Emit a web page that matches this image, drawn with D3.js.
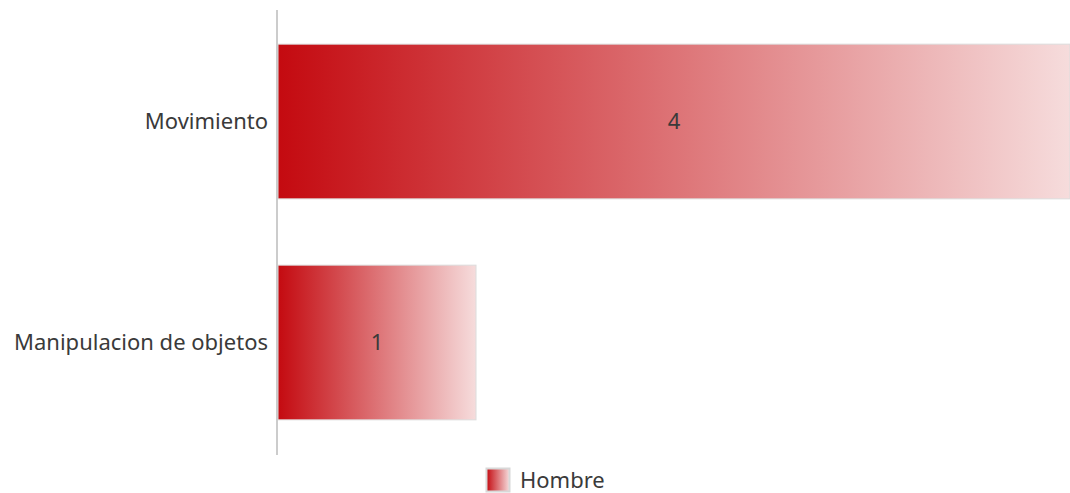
<!DOCTYPE html>
<html>
<head>
<meta charset="utf-8">
<script src="https://cdn.jsdelivr.net/npm/d3@7"></script>
<style>
  html, body { margin: 0; padding: 0; background: #fff; }
  svg { display: block; font-family: "Noto Sans", "Open Sans", sans-serif; }
</style>
</head>
<body>
<svg id="chart" width="1070" height="493"></svg>
<script>
const categories = ["Movimiento", "Manipulacion de objetos"];
const seriesName = "Hombre";
const values = [4, 1];
const xMax = 4;

const svg = d3.select("#chart");
const W = 1070, H = 493;
const margin = { left: 278, right: 0, top: 11, bottom: 40 };
const FS = 22;

const x = d3.scaleLinear().domain([0, xMax]).range([margin.left, W - margin.right]);
const y = d3.scaleBand().domain(categories).range([margin.top, H - margin.bottom])
  .paddingInner(0.3).paddingOuter(0.15);

const defs = svg.append("defs");
const grad = defs.append("linearGradient").attr("id", "barGrad")
  .attr("x1", "0%").attr("y1", "0%").attr("x2", "100%").attr("y2", "0%");
grad.append("stop").attr("offset", "0%").attr("stop-color", "#c40a10");
grad.append("stop").attr("offset", "100%").attr("stop-color", "#f6dcdc");

const rows = categories.map((c, i) => ({ c, v: values[i] }));

// bars
svg.append("g").selectAll("rect")
  .data(rows)
  .join("rect")
  .attr("x", x(0))
  .attr("y", d => y(d.c))
  .attr("width", d => x(d.v) - x(0))
  .attr("height", y.bandwidth())
  .attr("fill", "url(#barGrad)")
  .attr("stroke", "#dcdcdc")
  .attr("stroke-width", 1);

// axis
const yAxis = d3.axisLeft(y).tickSize(0).tickPadding(9);
const ga = svg.append("g").attr("transform", `translate(${x(0) - 1},0)`).call(yAxis);
ga.select(".domain").attr("stroke", "#cccccc").attr("stroke-width", 2)
  .attr("d", `M0,${10}V${455}`);
ga.selectAll(".tick text").attr("font-size", FS).attr("fill", "#3a3a3a")
  .attr("font-family", "Noto Sans, Open Sans, sans-serif");

// value labels
svg.append("g").selectAll("text")
  .data(rows)
  .join("text")
  .attr("x", d => (x(0) + x(d.v)) / 2)
  .attr("y", d => y(d.c) + y.bandwidth() / 2)
  .attr("dy", "0.35em")
  .attr("text-anchor", "middle")
  .attr("font-size", FS)
  .attr("fill", "#3a3a3a")
  .text(d => d.v);

// legend
const lg = svg.append("g").attr("transform", "translate(486,468)");
lg.append("rect").attr("x", 0.5).attr("y", 0.5).attr("width", 23).attr("height", 23)
  .attr("fill", "url(#barGrad)").attr("stroke", "#d8d8d8").attr("stroke-width", 2);
lg.append("text").attr("x", 34).attr("y", 12).attr("dy", "0.35em")
  .attr("font-size", FS).attr("fill", "#3a3a3a").text(seriesName);
</script>
</body>
</html>
